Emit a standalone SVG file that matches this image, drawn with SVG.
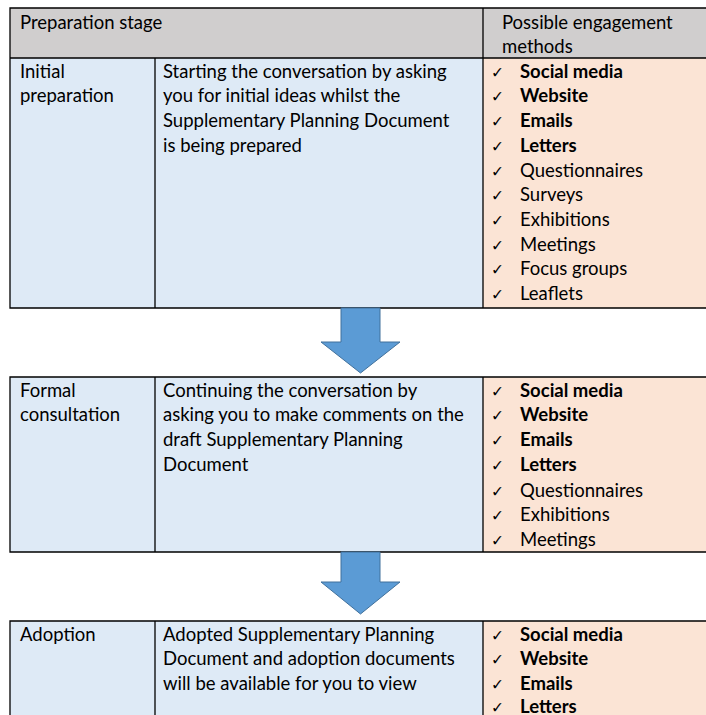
<svg xmlns="http://www.w3.org/2000/svg" width="706" height="715" viewBox="0 0 706 715">
<style>
.t{font-family:Lato,"Liberation Sans",sans-serif;font-size:18.5px;fill:#000}
.b{font-weight:bold}
.ck{font-family:"DejaVu Sans",sans-serif;font-size:15.5px;fill:#000}
.hd{fill:#D0CECE}
.bl{fill:#DEEAF6}
.pc{fill:#FBE4D5}
.ln{stroke:#000;stroke-width:1.3;fill:none}
.arr{fill:#5B9BD5;stroke:#41719C;stroke-width:1}
</style>
<rect width="706" height="715" fill="#fff"/>

<g id="header">
<rect class="hd" x="10" y="8" width="710" height="50"/>
<text class="t" x="20" y="28.5">Preparation stage</text>
<text class="t" x="502" y="28.5">Possible engagement</text>
<text class="t" x="502" y="53">methods</text>
</g>

<g id="stage1">
<rect class="bl" x="10" y="58" width="473" height="250"/>
<rect class="pc" x="483" y="58" width="240" height="250"/>
<text class="t" x="20" y="77.7">Initial</text>
<text class="t" x="20" y="102.4">preparation</text>
<text class="t" x="163" y="77.7">Starting the conversation by asking</text>
<text class="t" x="163" y="102.4">you for initial ideas whilst the</text>
<text class="t" x="163" y="127.1">Supplementary Planning Document</text>
<text class="t" x="163" y="151.8">is being prepared</text>
<g class="ck">
<text x="491" y="77.7">✓</text><text x="491" y="102.4">✓</text><text x="491" y="127.1">✓</text><text x="491" y="151.8">✓</text><text x="491" y="176.5">✓</text><text x="491" y="201.2">✓</text><text x="491" y="225.9">✓</text><text x="491" y="250.6">✓</text><text x="491" y="275.3">✓</text><text x="491" y="300">✓</text>
</g>
<text class="t b" x="520" y="77.7">Social media</text>
<text class="t b" x="520" y="102.4">Website</text>
<text class="t b" x="520" y="127.1">Emails</text>
<text class="t b" x="520" y="151.8">Letters</text>
<text class="t" x="520" y="176.5">Questionnaires</text>
<text class="t" x="520" y="201.2">Surveys</text>
<text class="t" x="520" y="225.9">Exhibitions</text>
<text class="t" x="520" y="250.6">Meetings</text>
<text class="t" x="520" y="275.3">Focus groups</text>
<text class="t" x="520" y="300">Leaflets</text>
<path class="ln" d="M720 8H10V308H720M10 58H720M155 58V308M483 8V308"/>
</g>

<g id="stage2">
<rect class="bl" x="10" y="377" width="473" height="175"/>
<rect class="pc" x="483" y="377" width="240" height="175"/>
<text class="t" x="20" y="396.7">Formal</text>
<text class="t" x="20" y="421.4">consultation</text>
<text class="t" x="163" y="396.7">Continuing the conversation by</text>
<text class="t" x="163" y="421.4">asking you to make comments on the</text>
<text class="t" x="163" y="446.1">draft Supplementary Planning</text>
<text class="t" x="163" y="470.8">Document</text>
<g class="ck">
<text x="491" y="396.7">✓</text><text x="491" y="421.4">✓</text><text x="491" y="446.1">✓</text><text x="491" y="470.8">✓</text><text x="491" y="496.5">✓</text><text x="491" y="521">✓</text><text x="491" y="545.5">✓</text>
</g>
<text class="t b" x="520" y="396.7">Social media</text>
<text class="t b" x="520" y="421.4">Website</text>
<text class="t b" x="520" y="446.1">Emails</text>
<text class="t b" x="520" y="470.8">Letters</text>
<text class="t" x="520" y="496.5">Questionnaires</text>
<text class="t" x="520" y="521">Exhibitions</text>
<text class="t" x="520" y="545.5">Meetings</text>
<path class="ln" d="M720 377H10V552H720M155 377V552M483 377V552"/>
</g>

<g id="stage3">
<rect class="bl" x="10" y="621" width="473" height="100"/>
<rect class="pc" x="483" y="621" width="240" height="100"/>
<text class="t" x="20" y="640.7">Adoption</text>
<text class="t" x="163" y="640.7">Adopted Supplementary Planning</text>
<text class="t" x="163" y="665.4">Document and adoption documents</text>
<text class="t" x="163" y="690.1">will be available for you to view</text>
<g class="ck">
<text x="491" y="640.7">✓</text><text x="491" y="665.4">✓</text><text x="491" y="690.1">✓</text><text x="491" y="713">✓</text>
</g>
<text class="t b" x="520" y="640.7">Social media</text>
<text class="t b" x="520" y="665.4">Website</text>
<text class="t b" x="520" y="690.1">Emails</text>
<text class="t b" x="520" y="713">Letters</text>
<path class="ln" d="M720 621H10V730M155 621V730M483 621V730"/>
</g>

<g id="connectors">
<path class="arr" d="M341 308H380V342H400L360.5 373L321 342H341Z"/>
<path class="arr" d="M341 552H380V582H400L360.5 614L321 582H341Z"/>
</g>
</svg>
